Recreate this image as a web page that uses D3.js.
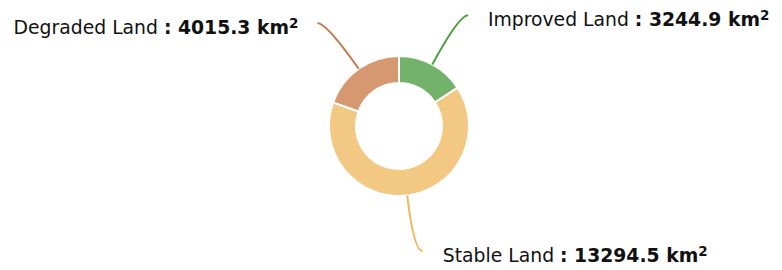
<!DOCTYPE html>
<html>
<head>
<meta charset="utf-8">
<script src="https://cdn.jsdelivr.net/npm/d3@7"></script>
<style>
  body { margin: 0; background: #fff; }
  svg text { font-family: "DejaVu Sans", sans-serif; }
</style>
</head>
<body>
<script>
// land change donut
var svgWidth = 782;
var svgHeight = 270;

// data
var categories = ["Improved Land", "Stable Land", "Degraded Land"];
var areas = [3244.9, 13294.5, 4015.3];
var sliceColors = ["#72b26b", "#f2c882", "#d69871"];
var lineColors = ["#4c9f3f", "#f0b65a", "#c8794a"];

var cx = 399, cy = 126;
var outerR = 70, innerR = 43;
var lineR = 126;   // radius of the leader line bend

var svg = d3.select("body")
  .append("svg")
  .attr("width", svgWidth)
  .attr("height", svgHeight);

var g = svg.append("g")
  .attr("transform", `translate(${cx}, ${cy})`);

var rows = categories.map(function(c, i) {
  return { name: c, value: areas[i], color: sliceColors[i], line: lineColors[i] };
});

var pie = d3.pie()
  .sort(null)
  .value(d => d.value);

var arc = d3.arc()
  .innerRadius(innerR)
  .outerRadius(outerR);

var arcs = pie(rows);

g.selectAll(".slice")
  .data(arcs)
  .enter()
    .append("path")
    .attr("d", arc)
    .attr("fill", d => d.data.color)
    .attr("stroke", "#fff")
    .attr("stroke-width", 2);

// leader lines: radial start, curve to horizontal end
function pointAt(angle, r) {
  return [Math.sin(angle) * r, -Math.cos(angle) * r];
}

arcs.forEach(function(d) {
  var mid = (d.startAngle + d.endAngle) / 2;
  var p0 = pointAt(mid, outerR);
  var p1 = pointAt(mid, lineR);
  var right = Math.sin(mid) >= 0;
  var p2 = [p1[0] + (right ? 9 : -9), p1[1]];

  var path = d3.path();
  path.moveTo(p0[0], p0[1]);
  path.quadraticCurveTo(p1[0], p1[1], p2[0], p2[1]);

  g.append("path")
    .attr("d", path.toString())
    .attr("fill", "none")
    .attr("stroke", d.data.line)
    .attr("stroke-width", 2);

  var label = g.append("text")
    .attr("x", p2[0] + (right ? 20 : -19))
    .attr("y", p2[1] + 11)
    .attr("text-anchor", right ? "start" : "end")
    .attr("font-size", "18.8px")
    .attr("fill", "#111");

  label.append("tspan").text(d.data.name + " ");
  label.append("tspan")
    .attr("font-weight", "bold")
    .text(": " + d3.format(".1f")(d.data.value) + " km");
  label.append("tspan")
    .attr("font-weight", "bold")
    .attr("font-size", "13.5px")
    .attr("dy", "-6")
    .text("2");
});
</script>
</body>
</html>
